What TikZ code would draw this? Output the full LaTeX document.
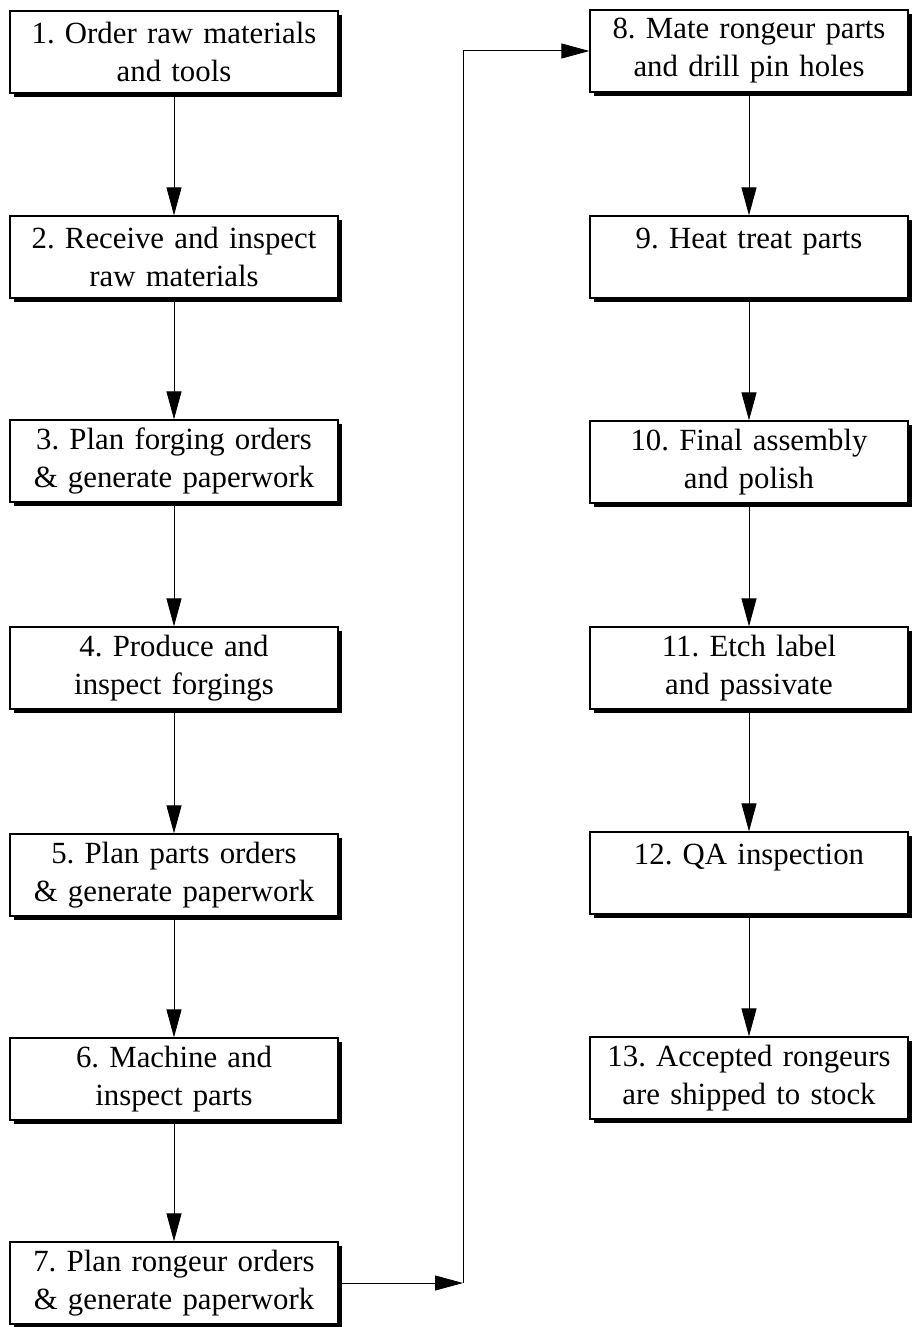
\documentclass[tikz,border=0pt]{standalone}
\usepackage{fontspec}
\setmainfont{Liberation Serif}
\usetikzlibrary{arrows.meta,shadows}
\tikzset{
  stepbox/.style={draw=black, line width=0.6pt, fill=white, inner sep=0pt,
    minimum height=41pt, align=center,
    font=\fontsize{15.4}{19}\selectfont\frenchspacing,
    drop shadow={shadow xshift=2pt, shadow yshift=-2pt, fill=black, opacity=1}},
  leftbox/.style={stepbox, minimum width=164pt, text width=160pt},
  rightbox/.style={stepbox, minimum width=159pt, text width=155pt},
  arr/.style={line width=0.5pt, -{Triangle[length=14pt,width=7.5pt]}}
}
\begin{document}
\begin{tikzpicture}[x=0.5pt,y=-0.5pt]
\useasboundingbox (0,0) rectangle (915,1327);
\node[leftbox] (n1) at (174,52) {1. Order raw materials\\and tools};
\node[leftbox] (n2) at (174,257) {2. Receive and inspect\\raw materials};
\node[leftbox] (n3) at (174,461) {3. Plan forging orders\\\& generate paperwork};
\node[leftbox] (n4) at (174,668) {4. Produce and\\inspect forgings};
\node[leftbox] (n5) at (174,875) {5. Plan parts orders\\\& generate paperwork};
\node[leftbox] (n6) at (174,1079) {6. Machine and\\inspect parts};
\node[leftbox] (n7) at (174,1283) {7. Plan rongeur orders\\\& generate paperwork};
\node[rightbox] (n8) at (749,51) {8. Mate rongeur parts\\and drill pin holes};
\node[rightbox] (n9) at (749,257) {9. Heat treat parts\\\mbox{}};
\node[rightbox] (n10) at (749,462) {10. Final assembly\\and polish};
\node[rightbox] (n11) at (749,668) {11. Etch label\\and passivate};
\node[rightbox] (n12) at (749,873) {12. QA inspection\\\mbox{}};
\node[rightbox] (n13) at (749,1078) {13. Accepted rongeurs\\are shipped to stock};
\draw[arr] (n1) -- (n2);
\draw[arr] (n2) -- (n3);
\draw[arr] (n3) -- (n4);
\draw[arr] (n4) -- (n5);
\draw[arr] (n5) -- (n6);
\draw[arr] (n6) -- (n7);
\coordinate (bend) at (463,1283);
\draw[arr] (n7.east) -- (bend);
\draw[arr] (bend) |- (n8.west);
\draw[arr] (n8) -- (n9);
\draw[arr] (n9) -- (n10);
\draw[arr] (n10) -- (n11);
\draw[arr] (n11) -- (n12);
\draw[arr] (n12) -- (n13);
\end{tikzpicture}
\end{document}
